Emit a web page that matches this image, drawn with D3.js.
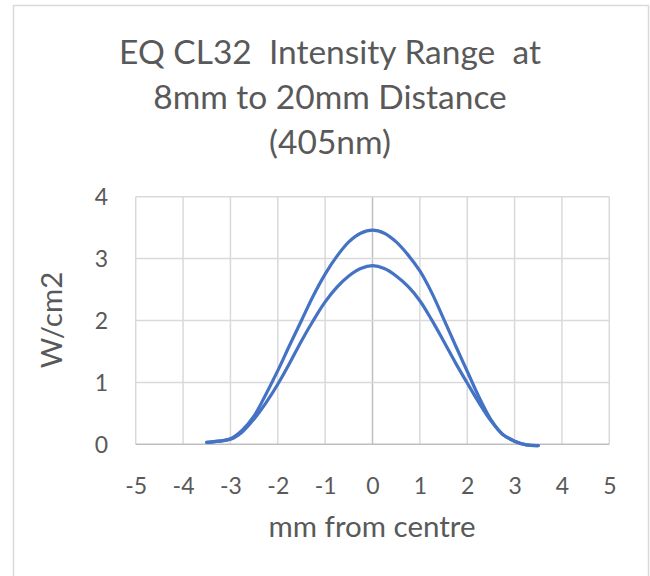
<!DOCTYPE html>
<html><head><meta charset="utf-8">
<script src="https://cdn.jsdelivr.net/npm/d3@7"></script>
<style>body{margin:0;background:#fff}svg{display:block}text{font-family:Lato,"Open Sans",sans-serif;fill:#595959}</style>
</head><body><svg id="c" width="650" height="576"></svg>
<script>
const titleLines = ["EQ CL32  Intensity Range  at", "8mm to 20mm Distance", "(405nm)"];
const xLabel = "mm from centre";
const yLabel = "W/cm2";
const xTicks = [-5,-4,-3,-2,-1,0,1,2,3,4,5];
const yTicks = [0,1,2,3,4];
const xs    = [-3.5,-3.25,-3,-2.75,-2.5,-2.25,-2,-1.75,-1.5,-1.25,-1,-0.75,-0.5,-0.25,0,0.25,0.5,0.75,1,1.25,1.5,1.75,2,2.25,2.5,2.75,3,3.25,3.5];
const upper = [0.03,0.05,0.09,0.23,0.46,0.81,1.19,1.6,2.0,2.4,2.75,3.04,3.27,3.41,3.46,3.41,3.27,3.06,2.8,2.45,2.03,1.6,1.18,0.76,0.4,0.16,0.05,-0.01,-0.02];
const lower = [0.03,0.05,0.08,0.2,0.41,0.67,0.97,1.31,1.67,2.0,2.3,2.54,2.72,2.84,2.885,2.84,2.72,2.55,2.32,2.01,1.67,1.32,0.99,0.67,0.38,0.16,0.05,-0.01,-0.02];

const svg = d3.select("#c");
svg.append("rect").attr("x",13.5).attr("y",5.5).attr("width",635).attr("height",600)
  .attr("fill","#fff").attr("stroke","#d9d9d9").attr("stroke-width",1.5);

const x = d3.scaleLinear().domain([-5,5]).range([135.7,609.3]);
const y = d3.scaleLinear().domain([0,4]).range([444.3,196.7]);

const tl = svg.append("g");
titleLines.forEach((t,i)=>tl.append("text").attr("x",330).attr("y",64+i*45)
  .attr("text-anchor","middle").attr("font-size",33.5).style("white-space","pre").text(t));

const g = svg.append("g");
g.selectAll(".vx").data(xTicks).join("line").attr("x1",d=>x(d)).attr("x2",d=>x(d))
  .attr("y1",y(4)).attr("y2",y(0)).attr("stroke",d=>d===0?"#bfbfbf":"#d9d9d9").attr("stroke-width",1.5);
g.selectAll(".hy").data(yTicks).join("line").attr("x1",x(-5)).attr("x2",x(5))
  .attr("y1",d=>y(d)).attr("y2",d=>y(d)).attr("stroke",d=>d===0?"#bfbfbf":"#d9d9d9").attr("stroke-width",1.5);

const fmt = d => String(d);
const xa = d3.axisBottom(x).tickValues(xTicks).tickFormat(fmt).tickSize(0).tickPadding(0);
const ya = d3.axisLeft(y).tickValues(yTicks).tickFormat(fmt).tickSize(0).tickPadding(0);
const gx = svg.append("g").attr("transform","translate(0,494)").call(xa);
gx.select(".domain").remove();
gx.selectAll("text").attr("font-size",23).attr("fill","#595959").attr("dy",0).attr("font-family","Lato");
const gy = svg.append("g").attr("transform","translate(108,0)").call(ya);
gy.select(".domain").remove();
gy.selectAll("text").attr("font-size",23).attr("fill","#595959").attr("dy","0.35em").attr("font-family","Lato");

svg.append("text").attr("x",372).attr("y",537).attr("text-anchor","middle").attr("font-size",29.5).text(xLabel);
svg.append("text").attr("transform","translate(62,320) rotate(-90)").attr("text-anchor","middle").attr("font-size",29.5).text(yLabel);

const line = d3.line().x(d=>x(d[0])).y(d=>y(d[1])).curve(d3.curveCatmullRom.alpha(0.5));
[upper,lower].forEach(s=>{
  svg.append("path").datum(xs.map((v,i)=>[v,s[i]])).attr("d",line)
    .attr("fill","none").attr("stroke","#4472C4").attr("stroke-width",3.2).attr("stroke-linecap","round");
});
</script></body></html>
